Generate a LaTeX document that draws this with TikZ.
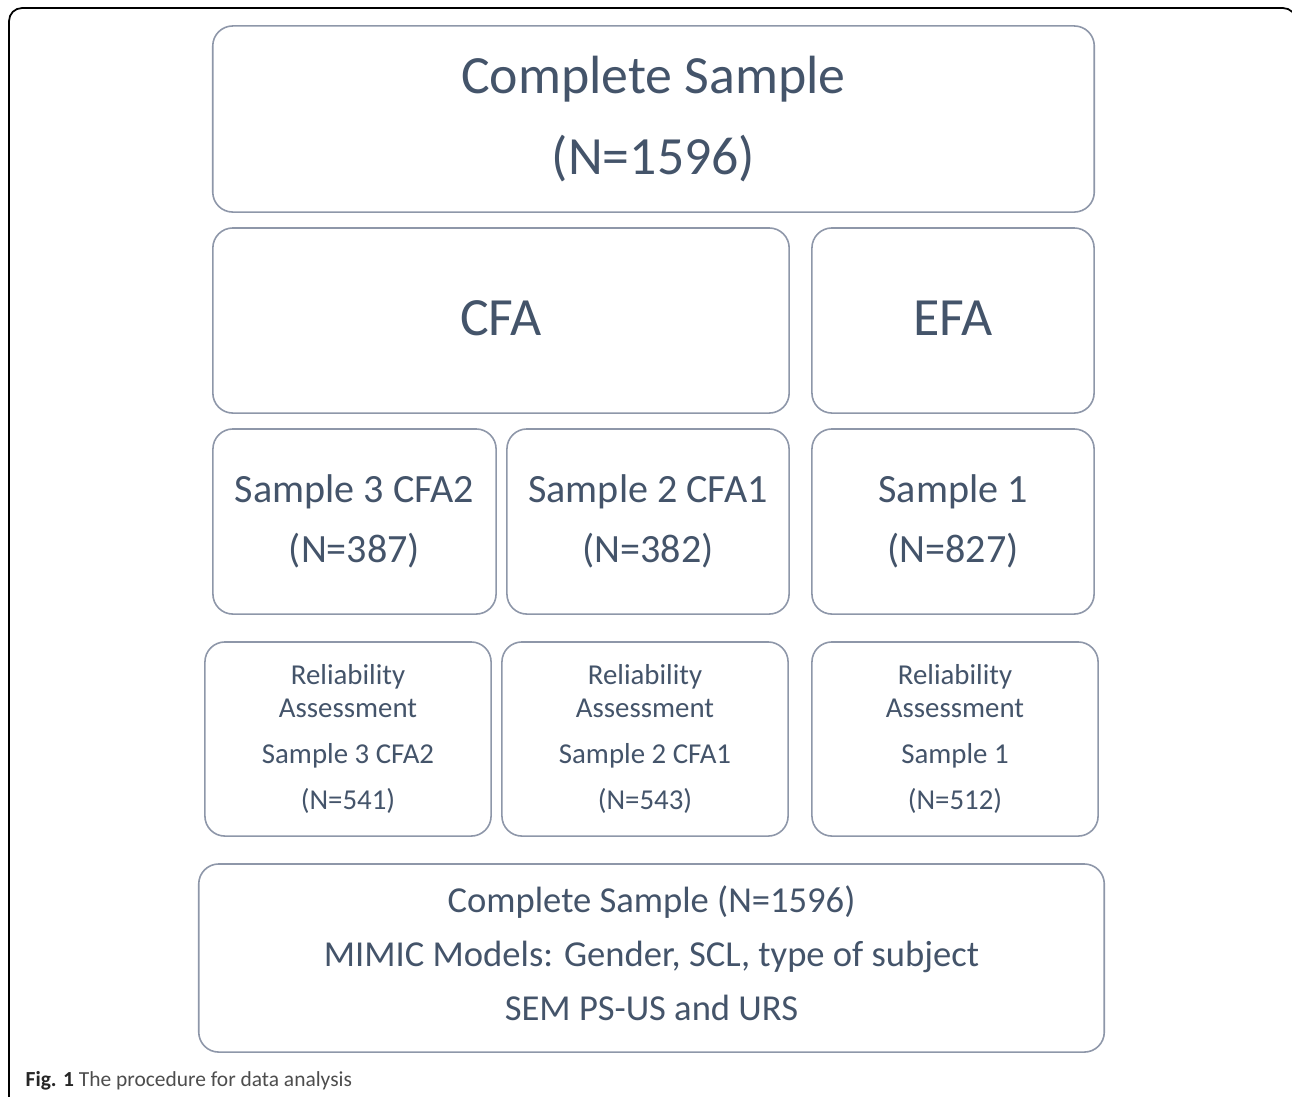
\documentclass[tikz,border=0pt]{standalone}
\usepackage{fontspec}
\setmainfont{Carlito}
\definecolor{txt}{HTML}{44546A}
\definecolor{bord}{HTML}{8E97A9}
\definecolor{cap}{HTML}{4D4D4D}
\begin{document}
\begin{tikzpicture}[x=0.01cm,y=-0.01cm,
  box/.style={draw=bord, line width=0.45pt, rounded corners=0.2cm, text=txt, align=center, inner sep=0pt},
  big/.style={font=\fontsize{15.3}{23}\selectfont},
  mid/.style={font=\fontsize{11.4}{17}\selectfont},
  small/.style={font=\fontsize{8.2}{9.4}\selectfont},
  bot/.style={font=\fontsize{10.4}{15.3}\selectfont}]
\useasboundingbox (0,0) rectangle (1292,1096);
\fill[white] (0,0) rectangle (1292,1096);
\draw[black, line width=0.5pt, rounded corners=0.13cm] (9,1110) -- (9,8) -- (1296,8) -- (1296,1110);
\node[box, big, minimum width=8.81cm, minimum height=1.86cm] (cs) at (653.5,119) {Complete Sample\\(N=1596)};
\node[box, big, minimum width=5.76cm, minimum height=1.85cm, text depth=0.05cm] (cfa) at (501,320.5) {CFA};
\node[box, big, minimum width=2.82cm, minimum height=1.85cm, text depth=0.05cm] (efa) at (953,320.5) {EFA};
\node[box, mid, minimum width=2.83cm, minimum height=1.85cm] (s3) at (354.5,521.5) {Sample 3 CFA2\\(N=387)};
\node[box, mid, minimum width=2.82cm, minimum height=1.85cm] (s2) at (648,521.5) {Sample 2 CFA1\\(N=382)};
\node[box, mid, minimum width=2.82cm, minimum height=1.85cm] (s1) at (953,521.5) {Sample 1\\(N=827)};
\node[box, small, minimum width=2.86cm, minimum height=1.94cm] (r3) at (348,739) {Reliability\\Assessment\\[3.6pt]Sample 3 CFA2\\[3.6pt](N=541)};
\node[box, small, minimum width=2.86cm, minimum height=1.94cm] (r2) at (645,739) {Reliability\\Assessment\\[3.6pt]Sample 2 CFA1\\[3.6pt](N=543)};
\node[box, small, minimum width=2.86cm, minimum height=1.94cm] (r1) at (955,739) {Reliability\\Assessment\\[3.6pt]Sample 1\\[3.6pt](N=512)};
\node[box, bot, minimum width=9.05cm, minimum height=1.88cm, text depth=0.1cm] (all) at (651.5,958) {Complete Sample (N=1596)\\MIMIC Models: Gender, SCL, type of subject\\SEM PS-US and URS};
\node[anchor=base west, inner sep=0pt, font=\fontsize{6.1}{7}\selectfont, text=cap] (caption) at (25,1086) {\textbf{\color{black!85}Fig. 1} The procedure for data analysis};
\end{tikzpicture}
\end{document}
